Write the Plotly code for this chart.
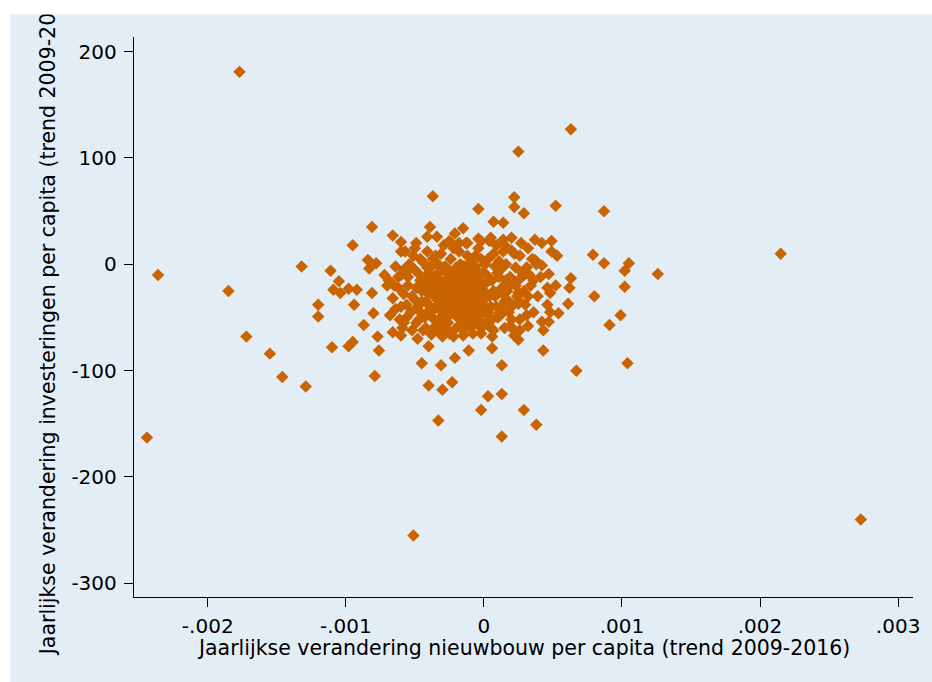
import plotly.graph_objects as go

# ---- data ----
x_outer = [-0.00177, -0.00236, -0.00244, -0.00185, -0.00172, -0.00155, -0.00146, -0.00129,
           0.00063, 0.00025, -0.00051, 0.00273, 0.00215, -0.00033]
y_outer = [181, -10, -163, -25, -68, -84, -106, -115,
           127, 106, -255, -240, 10, -147]

x_left = [-0.00037, -0.00004, -0.00081, -0.00066, -0.00095, -0.00060, -0.00060, -0.00049,
          -0.00039, -0.00034, -0.00041, -0.00021, -0.00015, -0.00018, -0.00012, -0.00004,
          -0.00132, -0.00111, -0.00084, -0.00078, -0.00083, -0.00064, -0.00056, -0.00072,
          -0.00105, -0.00109, -0.00104, -0.00098, -0.00092, -0.00081, -0.00069, -0.00070,
          -0.00120, -0.00094, -0.00120, -0.00080,
          -0.00087, -0.00058, -0.00077, -0.00066, -0.00060, -0.00095, -0.00098, -0.00110,
          -0.00076, -0.00048, -0.00040, -0.00030, -0.00025, -0.00015, -0.00011, -0.00021,
          -0.00045, -0.00031, -0.00079, -0.00040, -0.00023, -0.00030, -0.00002]
y_left = [64, 52, 35, 27, 18, 21, 12, 20,
          35, 26, 26, 29, 34, 20, 20, 24,
          -2, -6, 4, 1, -4, -2, -7, -10,
          -16, -24, -27, -23, -24, -27, -15, -20,
          -38, -38, -49, -46,
          -57, -55, -68, -64, -67, -73, -77, -78,
          -81, -70, -77, -68, -65, -67, -81, -88,
          -93, -95, -105, -114, -111, -118, -137]

x_right = [0.00022, 0.00022, 0.00029, 0.00052, 0.00087, 0.00007, 0.00014, 0.00037,
           0.00042, 0.00049, 0.00049, 0.00053, 0.00079, 0.00087, 0.00105, 0.00102,
           0.00126, 0.00037, 0.00042, 0.00031, 0.00030, 0.00047, 0.00041, 0.00063,
           0.00062, 0.00102, 0.00052, 0.00046, 0.00048, 0.00080, 0.00061, 0.00046,
           0.00054, 0.00099, 0.00014, 0.00020, 0.00019, 0.00025, 0.00025, 0.00020,
           0.00011,
           0.00091, 0.00104, 0.00067, 0.00043, 0.00043, 0.00042, 0.00047, 0.00048,
           0.00026, 0.00022, 0.00025, 0.00006, 0.00013, 0.00003, 0.00013, 0.00029,
           0.00038, 0.00013]
y_right = [63, 54, 48, 55, 50, 40, 39, 23,
           20, 22, 12, 8, 9, 1, 1, -6,
           -9, 4, -1, -3, -9, -9, -12, -13,
           -22, -21, -20, -22, -27, -30, -37, -38,
           -46, -48, 23, 13, -12, -27, -37, -40,
           -46,
           -57, -93, -100, -81, -62, -54, -54, -45,
           -62, -67, -71, -79, -95, -124, -122, -137,
           -151, -162]

x_core = [-0.00060, -0.00055, -0.00052, -0.00050, -0.00048, -0.00046, -0.00045, -0.00044, -0.00043, -0.00042,
          -0.00040, -0.00039, -0.00038, -0.00037, -0.00036, -0.00035, -0.00034, -0.00033, -0.00032, -0.00031,
          -0.00030, -0.00029, -0.00028, -0.00027, -0.00026, -0.00025, -0.00024, -0.00023, -0.00022, -0.00021,
          -0.00020, -0.00019, -0.00018, -0.00017, -0.00016, -0.00015, -0.00014, -0.00013, -0.00012, -0.00011,
          -0.00010, -0.00009, -0.00008, -0.00007, -0.00006, -0.00005, -0.00004, -0.00003, -0.00002, -0.00001,
          0.00000, 0.00002, 0.00003, 0.00005, 0.00006, 0.00008, 0.00009, 0.00010, 0.00012, 0.00013,
          0.00015, 0.00016, 0.00018, 0.00020, 0.00022, 0.00024, 0.00026, 0.00028, 0.00030, 0.00032,
          0.00034, 0.00036, 0.00038, 0.00039,
          -0.00058, -0.00053, -0.00051, -0.00049, -0.00047, -0.00042, -0.00040, -0.00038, -0.00036, -0.00035,
          -0.00033, -0.00032, -0.00030, -0.00029, -0.00027, -0.00026, -0.00025, -0.00024, -0.00023, -0.00022,
          -0.00021, -0.00020, -0.00019, -0.00018, -0.00017, -0.00016, -0.00015, -0.00014, -0.00013, -0.00012,
          -0.00011, -0.00010, -0.00009, -0.00008, -0.00007, -0.00006, -0.00005, -0.00004, -0.00003, -0.00002,
          -0.00001, 0.00001, 0.00002, 0.00004, 0.00005, 0.00007, 0.00008, 0.00010, 0.00011, 0.00013,
          0.00014, 0.00017, 0.00019, 0.00021, 0.00023, 0.00025, 0.00027, 0.00029, 0.00031, 0.00033,
          -0.00045, -0.00041, -0.00039, -0.00037, -0.00034, -0.00031, -0.00028, -0.00026, -0.00024, -0.00022,
          -0.00019, -0.00017, -0.00015, -0.00013, -0.00010, -0.00008, -0.00006, -0.00004, -0.00001, 0.00001,
          -0.00056, -0.00054, -0.00062, -0.00064, -0.00066, -0.00068, -0.00061, -0.00059, -0.00057, -0.00052,
          -0.00050, -0.00046, -0.00041, -0.00035, -0.00029, -0.00025, -0.00018, -0.00014, -0.00006, -0.00002,
          0.00004, 0.00007, 0.00011, 0.00015, 0.00020, 0.00026, 0.00035,
          -0.00044, -0.00038, -0.00030, -0.00022, -0.00015, -0.00008, -0.00002, 0.00006, 0.00015, 0.00022,
          0.00032]
y_core = [-10, -20, -30, -5, -40, -15, -25, 2, -50, -35,
          -8, -20, -45, 5, -30, -58, -12, -38, -22, 10,
          -48, -3, -30, -16, -55, -40, -8, -26, 15, -35,
          -60, -18, -45, 0, -28, -10, -50, -22, 8, -38,
          -15, -58, -30, -5, -42, -20, 15, -48, -32, -8,
          -25, -55, 5, -40, -15, -30, 18, -50, -5, -22,
          -35, 0, -45, -18, 10, -30, -52, -8, -38, 15,
          -20, -45, 0, -30,
          -28, -45, 8, -22, -52, -12, -28, -2, -42, -18,
          0, -52, -28, -40, -8, -22, -32, 5, -45, -12,
          -25, -3, -38, -20, -52, -10, -42, -30, 20, -15,
          -28, -45, 2, -18, -36, -25, -55, -12, -28, 5,
          -40, -18, -10, -30, 25, -62, -2, -28, -12, -40,
          12, -25, -58, -38, -3, -15, 20, -25, -48, -10,
          -35, -45, -10, -25, -33, -15, -48, -5, -38, -28,
          -8, -32, -22, -45, -35, -8, -15, -35, -20, -45,
          -38, 0, -22, -42, -32, -48, -52, -60, 12, -62,
          15, 5, 12, 8, 18, 22, 12, -2, 8, 22,
          22, 10, 3, 18, 25, 8, 5,
          -62, -66, -60, -68, -62, -65, -60, -68, -60, -62,
          -58]

x_dense = [-0.00055, -0.00050, -0.00048, -0.00046, -0.00043, -0.00041, -0.00040, -0.00038, -0.00036, -0.00035,
           -0.00033, -0.00032, -0.00030, -0.00029, -0.00028, -0.00027, -0.00025, -0.00025, -0.00023, -0.00022,
           -0.00021, -0.00020, -0.00019, -0.00018, -0.00017, -0.00016, -0.00015, -0.00014, -0.00013, -0.00012,
           -0.00011, -0.00010, -0.00009, -0.00008, -0.00007, -0.00006, -0.00005, -0.00004, -0.00003, -0.00002,
           -0.00001, 0.00000, 0.00001, 0.00002, 0.00003, 0.00004, 0.00006, 0.00007, 0.00009, 0.00010,
           0.00012, 0.00014, 0.00016, 0.00018, 0.00020, 0.00023, 0.00026, 0.00029, 0.00032, 0.00036,
           -0.00049, -0.00042, -0.00034, -0.00026, -0.00018, -0.00010, -0.00002, 0.00005,
           -0.00058, -0.00062, -0.00065, -0.00056, -0.00060]
y_dense = [-12, -33, -8, -45, -20, -3, -38, -15, -52, -25,
           -8, -42, -18, -55, -2, -35, -48, -12, -20, -40,
           -5, -30, -50, -10, -22, -40, -2, -18, -32, -55,
           -5, -22, -42, -12, -50, -2, -30, -45, -10, -18,
           -55, -38, 0, -30, -45, -15, -52, -25, -40, -8,
           -48, -28, -15, -35, -52, -20, -35, -10, -30, -15,
           -55, -60, -62, -62, -58, -60, -65, -60,
           -5, -12, -20, -50, -40]

xs = x_outer + x_left + x_right + x_core + x_dense
ys = y_outer + y_left + y_right + y_core + y_dense

x_tickvals = [-0.002, -0.001, 0, 0.001, 0.002, 0.003]
x_ticktext = ["-.002", "-.001", "0", ".001", ".002", ".003"]
y_tickvals = [-300, -200, -100, 0, 100, 200]
y_ticktext = ["-300", "-200", "-100", "0", "100", "200"]

x_title = "Jaarlijkse verandering nieuwbouw per capita (trend 2009-2016)"
y_title = "Jaarlijkse verandering investeringen per capita (trend 2009-2016)"

# ---- styling ----
BG = "#e3edf6"
MARK = "#c96400"
FONT = "DejaVu Sans"
W, H = 932, 682
L, R, T, B = 134, 17, 37, 85
pw, ph = W - L - R, H - T - B

def px_to_paper_x(px):
    return (px - L) / pw

def py_to_paper_y(py):
    return (H - B - py) / ph

fig = go.Figure(go.Scatter(
    x=xs, y=ys, mode="markers",
    marker=dict(symbol="diamond", size=9.6, color=MARK, line=dict(width=0)),
    hoverinfo="skip",
))

axis_common = dict(
    showgrid=False, zeroline=False, showline=True, linecolor="#000", linewidth=1.4,
    ticks="outside", ticklen=9, tickwidth=1.4, tickcolor="#000",
    tickfont=dict(family=FONT, size=20, color="#000"),
)

fig.update_xaxes(range=[-0.002534, 0.003108], tickvals=x_tickvals, ticktext=x_ticktext,
                 ticklabelstandoff=2, **axis_common)
fig.update_yaxes(range=[-312.9, 213.8], tickvals=y_tickvals, ticktext=y_ticktext,
                 ticklabelstandoff=3, **axis_common)

fig.update_layout(
    width=W, height=H,
    margin=dict(l=L, r=R, t=T, b=B, pad=0),
    paper_bgcolor=BG, plot_bgcolor=BG,
    showlegend=False,
    font=dict(family=FONT, color="#000"),
    shapes=[dict(type="rect", xref="paper", yref="paper", layer="below",
                 x0=px_to_paper_x(-5), x1=px_to_paper_x(10),
                 y0=py_to_paper_y(H + 5), y1=py_to_paper_y(-5),
                 fillcolor="white", line=dict(width=0))],
    annotations=[
        dict(text=x_title, xref="paper", yref="paper", showarrow=False,
             x=px_to_paper_x(525), y=py_to_paper_y(648), xanchor="center", yanchor="middle",
             font=dict(family=FONT, size=20.5, color="#000")),
        dict(text=y_title, xref="paper", yref="paper", showarrow=False, textangle=-90,
             x=px_to_paper_x(48), y=0.5, xanchor="center", yanchor="middle",
             font=dict(family=FONT, size=20.5, color="#000")),
        dict(text=" ", xref="paper", yref="paper", showarrow=False,
             x=px_to_paper_x(-5), y=py_to_paper_y(-5), xanchor="left", yanchor="top",
             width=W + 20, height=18, bgcolor="white", borderpad=0,
             font=dict(size=4)),
    ],
)

fig.write_html("out.html")
